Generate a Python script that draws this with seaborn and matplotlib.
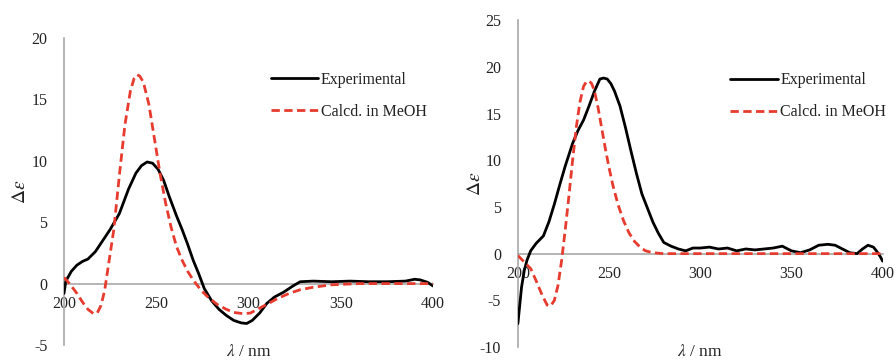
import matplotlib
matplotlib.use("Agg")
import matplotlib.pyplot as plt
import pandas as pd
import seaborn as sns

# left panel
left_exp_nm = [200, 201, 204, 207, 210, 213, 217, 221, 225, 230, 235, 239, 242, 245,
               248, 251, 254, 257, 261, 264, 267, 270, 273, 276, 280, 284, 288, 292,
               296, 299, 302, 306, 310, 314, 319, 324, 328, 335, 345, 355, 365, 375,
               385, 390, 393, 397, 400]
left_exp_de = [-0.8, 0.2, 1.0, 1.5, 1.8, 2.0, 2.6, 3.5, 4.4, 5.7, 7.7, 9.0, 9.6, 9.9,
               9.8, 9.3, 8.4, 7.1, 5.5, 4.4, 3.2, 1.9, 0.8, -0.4, -1.4, -2.1, -2.6, -3.0,
               -3.2, -3.25, -3.0, -2.4, -1.6, -1.1, -0.7, -0.2, 0.15, 0.2, 0.15, 0.2, 0.15,
               0.15, 0.2, 0.35, 0.3, 0.1, -0.2]
left_calc_nm = [200, 203, 207, 210, 213, 216, 218, 220, 222, 224, 227, 230, 233, 236,
                238, 239.5, 241, 243, 246, 249, 252, 255, 258, 261, 264, 267, 270, 274,
                278, 283, 288, 292, 297, 301, 306, 311, 316, 322, 328, 335, 345, 360,
                380, 400]
left_calc_de = [0.5, 0.0, -0.8, -1.5, -2.1, -2.45, -2.4, -1.8, -0.6, 1.4, 4.4, 8.8, 12.9,
                15.7, 16.7, 17.0, 16.9, 16.4, 14.6, 11.8, 9.0, 6.6, 4.6, 3.0, 1.9, 1.0,
                0.3, -0.5, -1.1, -1.7, -2.1, -2.35, -2.45, -2.4, -2.0, -1.6, -1.2, -0.8,
                -0.5, -0.3, -0.1, 0.0, 0.0, 0.0]

# right panel
right_exp_nm = [200, 202, 203.5, 205, 207, 210, 212, 214, 217, 220, 223, 226, 230, 233,
                236, 239, 242, 245, 247, 249, 251, 253, 256, 259, 262, 265, 268, 271,
                274, 277, 280, 284, 288, 292, 296, 300, 305, 310, 315, 320, 325, 330,
                335, 340, 345, 350, 355, 360, 365, 370, 374, 378, 382, 386, 389, 392,
                395, 397, 399, 400]
right_exp_de = [-7.5, -3.6, -1.8, -0.7, 0.3, 1.1, 1.5, 1.9, 3.4, 5.3, 7.4, 9.4, 11.8, 13.2,
                14.3, 15.8, 17.4, 18.7, 18.8, 18.7, 18.2, 17.4, 15.8, 13.5, 11.0, 8.6, 6.4,
                4.9, 3.4, 2.2, 1.2, 0.8, 0.5, 0.3, 0.6, 0.6, 0.7, 0.5, 0.6, 0.3, 0.5, 0.4,
                0.5, 0.6, 0.8, 0.3, 0.1, 0.4, 0.9, 1.0, 0.9, 0.5, 0.1, 0.0, 0.5, 0.9, 0.7,
                0.2, -0.4, -0.8]
right_calc_nm = [200, 203, 207, 210, 213, 216, 218, 220, 222, 224, 226, 228, 230, 232,
                 234, 236, 237.5, 239, 240.5, 242, 244, 246, 248, 250, 252, 255, 258, 261,
                 264, 267, 270, 274, 280, 300, 350, 400]
right_calc_de = [-0.2, -0.8, -1.6, -2.9, -4.3, -5.5, -5.6, -5.0, -3.4, -0.7, 2.6, 6.2,
                 10.0, 13.5, 16.2, 17.9, 18.4, 18.5, 18.2, 17.4, 15.6, 13.4, 11.2, 9.2,
                 7.4, 5.2, 3.5, 2.2, 1.3, 0.7, 0.3, 0.1, 0.0, 0.0, 0.0, 0.0]

series_names = ["Experimental", "Calcd. in MeOH"]
left_yticks = [-5, 0, 5, 10, 15, 20]
right_yticks = [-10, -5, 0, 5, 10, 15, 20, 25]
xticks = [200, 250, 300, 350, 400]

RED = "#E63B2E"
GRAY = "#A8A8A8"
TXT = "#222222"

sns.set_theme(style="white")
plt.rcParams["font.family"] = ["Liberation Serif", "DejaVu Serif"]
plt.rcParams["mathtext.fontset"] = "stix"


def to_frame(exp_nm, exp_de, calc_nm, calc_de):
    a = pd.DataFrame({"nm": exp_nm, "de": exp_de, "kind": series_names[0]})
    b = pd.DataFrame({"nm": calc_nm, "de": calc_de, "kind": series_names[1]})
    return pd.concat([a, b], ignore_index=True)


def draw(ax, df, yticks, ylim, xlab_y, ylab_x, leg_xy):
    sns.lineplot(data=df, x="nm", y="de", hue="kind", style="kind",
                 palette={series_names[0]: "black", series_names[1]: RED},
                 dashes={series_names[0]: "", series_names[1]: (3, 1.6)},
                 linewidth=2.0, ax=ax, estimator=None, sort=False, zorder=3)
    ax.set_xlim(200, 400)
    ax.set_ylim(*ylim)
    ax.set_xticks(xticks)
    ax.set_yticks(yticks)
    ax.set_yticklabels([str(t) for t in yticks])
    for s in ["top", "right"]:
        ax.spines[s].set_visible(False)
    for s in ["left", "bottom"]:
        ax.spines[s].set_color(GRAY)
        ax.spines[s].set_linewidth(1.2)
    ax.spines["bottom"].set_position(("data", 0))
    ax.tick_params(axis="both", length=0, labelsize=11.5, labelcolor=TXT)
    ax.tick_params(axis="y", pad=12)
    ax.tick_params(axis="x", pad=9)
    ax.set_xlabel(r"$\lambda$ / nm", fontsize=12.5, color=TXT, va="top")
    ax.set_ylabel(r"$\Delta\varepsilon$", fontsize=14, color=TXT)
    ax.xaxis.set_label_coords(0.5, xlab_y)
    ax.yaxis.set_label_coords(ylab_x, 0.5)
    leg = ax.legend(loc="upper right", bbox_to_anchor=leg_xy, frameon=False,
                    fontsize=11.5, handlelength=3.0, handletextpad=0.15,
                    labelspacing=1.0, title=None)
    for t in leg.get_texts():
        t.set_color(TXT)


fig = plt.figure(figsize=(8.96, 3.6), dpi=100)
ax1 = fig.add_axes([0.0714, 0.0417, 0.412, 0.853])
ax2 = fig.add_axes([0.578, 0.036, 0.407, 0.908])

draw(ax1, to_frame(left_exp_nm, left_exp_de, left_calc_nm, left_calc_de),
     left_yticks, (-5, 20), 0.003, -0.095, (1.022, 0.937))
draw(ax2, to_frame(right_exp_nm, right_exp_de, right_calc_nm, right_calc_de),
     right_yticks, (-10, 25), 0.009, -0.093, (1.05, 0.885))

fig.savefig("out.png", dpi=100)
